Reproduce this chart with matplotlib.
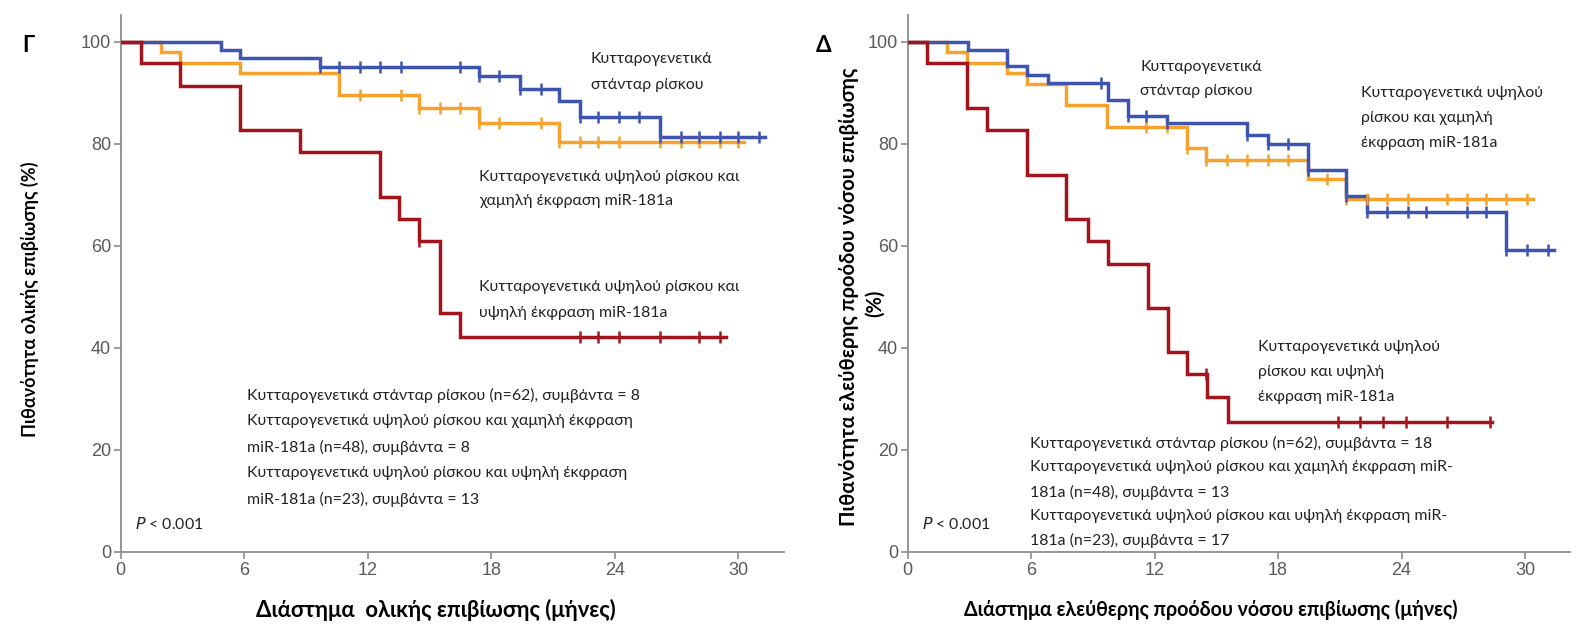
import matplotlib
matplotlib.use("Agg")
import matplotlib.pyplot as plt
import numpy as np

# Overall survival (OS) – step values read per group
os_std_t = [0, 4.85, 5.8, 9.7, 17.4, 19.4, 21.3, 22.3, 26.2]
os_std_s = [100, 98.4, 96.8, 95.1, 93.2, 90.7, 88.3, 85.2, 81.3]
os_std_cens = [9.7, 10.6, 11.6, 12.6, 13.6, 16.5, 17.4, 18.4, 19.4, 20.4, 22.3, 23.2,
               24.2, 25.2, 26.2, 27.2, 28.1, 29.1, 30.0, 31.0]
os_std_end = 31.3

os_low_t = [0, 1.94, 2.9, 5.8, 10.6, 14.5, 17.4, 21.3]
os_low_s = [100, 97.9, 95.8, 93.8, 89.6, 87.0, 84.1, 80.3]
os_low_cens = [11.6, 13.6, 14.5, 15.5, 16.5, 17.4, 18.4, 20.4, 21.3, 22.3, 23.2, 24.2,
               26.2, 27.2, 28.1, 29.1, 30.0]
os_low_end = 30.3

os_high_t = [0, 1.0, 2.9, 5.8, 8.7, 12.6, 13.5, 14.5, 15.5, 16.5]
os_high_s = [100, 95.7, 91.3, 82.6, 78.3, 69.6, 65.2, 60.9, 46.8, 42.1]
os_high_cens = [14.5, 22.3, 23.2, 24.2, 26.2, 28.1, 29.1]
os_high_end = 29.4

# Progression-free survival (PFS)
pfs_std_t = [0, 2.95, 4.84, 5.8, 6.8, 9.74, 10.7, 12.6, 16.5, 17.5, 19.45, 21.3, 22.3, 29.1]
pfs_std_s = [100, 98.4, 95.2, 93.5, 91.9, 88.6, 85.4, 84.0, 81.7, 80.0, 74.9, 69.7, 66.6, 59.1]
pfs_std_cens = [9.4, 10.7, 11.6, 12.6, 16.5, 17.5, 18.5, 19.45, 21.3, 22.3, 23.3, 24.3,
                25.2, 27.2, 28.1, 29.1, 30.1, 31.1]
pfs_std_end = 31.4

pfs_low_t = [0, 1.9, 2.9, 4.84, 5.8, 7.7, 9.7, 13.6, 14.5, 19.45, 21.3]
pfs_low_s = [100, 97.9, 95.8, 93.8, 91.7, 87.5, 83.3, 79.1, 76.8, 73.1, 69.2]
pfs_low_cens = [11.6, 12.6, 13.6, 14.5, 15.5, 16.5, 17.5, 18.5, 20.4, 21.3, 22.3, 23.3,
                24.3, 26.2, 27.2, 28.1, 29.1, 30.1]
pfs_low_end = 30.4

pfs_high_t = [0, 0.93, 2.87, 3.87, 5.78, 7.7, 8.77, 9.74, 11.7, 12.66, 13.6, 14.55, 15.57]
pfs_high_s = [100, 95.7, 87.0, 82.6, 73.9, 65.2, 60.9, 56.5, 47.8, 39.1, 34.8, 30.4, 25.4]
pfs_high_cens = [14.5, 20.9, 22.0, 23.1, 24.2, 26.2, 28.3]
pfs_high_end = 28.4

x_ticks = [0, 6, 12, 18, 24, 30]
y_ticks = [0, 20, 40, 60, 80, 100]

c_std = "#3d55b0"
c_low = "#f6a22c"
c_high = "#a3141d"

text_font = ["Lato", "DejaVu Sans"]
tick_font = ["Liberation Sans", "DejaVu Sans"]


def km_curve(ax, t, s, cens, end, color):
    tt = list(t) + [end]
    ss = list(s) + [s[-1]]
    ax.step(tt, ss, where="post", color=color, lw=2.5, solid_joinstyle="miter", zorder=3)
    idx = np.searchsorted(t, cens, side="right") - 1
    ax.plot(cens, np.array(s)[idx], ls="none", marker="|", ms=9, mew=1.8,
            color=color, zorder=4)


def style_axes(ax):
    ax.set_xlim(0, 32.2)
    ax.set_ylim(0, 105.2)
    ax.set_xticks(x_ticks)
    ax.set_yticks(y_ticks)
    for side in ("top", "right"):
        ax.spines[side].set_visible(False)
    for side in ("left", "bottom"):
        ax.spines[side].set_color("#8c8c8c")
        ax.spines[side].set_linewidth(1.3)
    ax.tick_params(direction="out", length=5, width=1.2, color="#8c8c8c",
                   labelcolor="#5a5a5a", labelsize=13, pad=2)
    for lab in ax.get_xticklabels() + ax.get_yticklabels():
        lab.set_family(tick_font)


fig = plt.figure(figsize=(15.84, 6.28), dpi=100)
W, H = 1584, 628

ax1 = fig.add_axes([120.8 / W, 1 - 552 / H, 662.7 / W, 537 / H])
ax2 = fig.add_axes([907.6 / W, 1 - 552 / H, 662.7 / W, 537 / H])

# left panel: overall survival
km_curve(ax1, os_low_t, os_low_s, os_low_cens, os_low_end, c_low)
km_curve(ax1, os_std_t, os_std_s, os_std_cens, os_std_end, c_std)
km_curve(ax1, os_high_t, os_high_s, os_high_cens, os_high_end, c_high)
style_axes(ax1)

# right panel: progression-free survival
km_curve(ax2, pfs_low_t, pfs_low_s, pfs_low_cens, pfs_low_end, c_low)
km_curve(ax2, pfs_std_t, pfs_std_s, pfs_std_cens, pfs_std_end, c_std)
km_curve(ax2, pfs_high_t, pfs_high_s, pfs_high_cens, pfs_high_end, c_high)
style_axes(ax2)

fs = 11.4
ls = 2.0


def px(x, y, s, **kw):
    # place text in figure pixel coordinates (top-left origin)
    fig.text(x / W, 1 - y / H, s, family=text_font, fontsize=kw.pop("size", fs),
             color=kw.pop("color", "#222222"), linespacing=kw.pop("linespacing", ls), **kw)


# panel letters
px(22, 46, "Γ", size=16, weight="bold", va="center", color="black")
px(816, 46, "Δ", size=16, weight="bold", va="center", color="black")

# axis titles
px(30, 299, "Πιθανότητα ολικής επιβίωσης (%)", size=13, weight="bold",
   rotation=90, ha="center", va="center", color="black")
px(436, 610, "Διάστημα  ολικής επιβίωσης (μήνες)", size=15.8, weight="bold",
   ha="center", va="center", color="black")
px(849, 297, "Πιθανότητα ελεύθερης προόδου νόσου επιβίωσης", size=14.5,
   weight="bold", rotation=90, ha="center", va="center", color="black")
px(875, 303, "(%)", size=14.5, weight="bold", rotation=90, ha="center",
   va="center", color="black")
px(1211, 610, "Διάστημα ελεύθερης προόδου νόσου επιβίωσης (μήνες)", size=14.1,
   weight="bold", ha="center", va="center", color="black")

# left panel annotations
px(591, 72, "Κυτταρογενετικά\nστάνταρ ρίσκου", va="center")
px(479, 189, "Κυτταρογενετικά υψηλού ρίσκου και\nχαμηλή έκφραση miR-181a", va="center")
px(479, 300, "Κυτταρογενετικά υψηλού ρίσκου και\nυψηλή έκφραση miR-181a", va="center")
px(246.5, 447.5,
   "Κυτταρογενετικά στάνταρ ρίσκου (n=62), συμβάντα = 8\n"
   "Κυτταρογενετικά υψηλού ρίσκου και χαμηλή έκφραση\n"
   "miR-181a (n=48), συμβάντα = 8\n"
   "Κυτταρογενετικά υψηλού ρίσκου και υψηλή έκφραση\n"
   "miR-181a (n=23), συμβάντα = 13", va="center")
px(135, 524, "$P$ < 0.001", va="center")

# right panel annotations
px(1140, 79, "Κυτταρογενετικά\nστάνταρ ρίσκου", va="center")
px(1361, 118, "Κυτταρογενετικά υψηλού\nρίσκου και χαμηλή\nέκφραση miR-181a", va="center")
px(1258, 372, "Κυτταρογενετικά υψηλού\nρίσκου και υψηλή\nέκφραση miR-181a", va="center")
px(1030, 492,
   "Κυτταρογενετικά στάνταρ ρίσκου (n=62), συμβάντα = 18\n"
   "Κυτταρογενετικά υψηλού ρίσκου και χαμηλή έκφραση miR-\n"
   "181a (n=48), συμβάντα = 13\n"
   "Κυτταρογενετικά υψηλού ρίσκου και υψηλή έκφραση miR-\n"
   "181a (n=23), συμβάντα = 17", va="center", linespacing=1.85)
px(922, 524, "$P$ < 0.001", va="center")

fig.savefig("out.png", dpi=100, facecolor="white")
